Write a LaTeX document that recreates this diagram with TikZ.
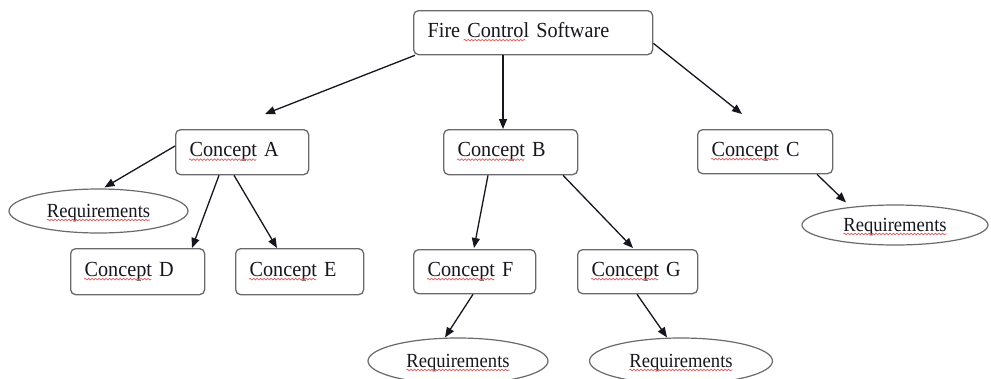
\documentclass[tikz,border=0pt]{standalone}
\usepackage{fontspec}
\setmainfont{Liberation Serif}
\newfontfamily\bxfamily[FakeStretch=0.94,WordSpace=0.8]{Liberation Serif}
\newfontfamily\ovfamily[FakeStretch=0.93]{Liberation Serif}
\usetikzlibrary{arrows.meta,shapes.geometric,calc,decorations.pathmorphing}
\definecolor{edgegray}{HTML}{6A6A6A}
\definecolor{inkcol}{HTML}{16161E}
\definecolor{spellred}{HTML}{E05A5A}
\newcommand\boxtext{\bxfamily\fontsize{21.5}{26}\selectfont}
\newcommand\ovaltext{\ovfamily\fontsize{20}{24}\selectfont}
\newlength\wcon
\newlength\wreq
\newlength\wfire
\newlength\wctl
\begin{document}
\settowidth{\wcon}{\boxtext Concept}%
\settowidth{\wreq}{\ovaltext Requirements}%
\settowidth{\wfire}{\boxtext Fire\ }%
\settowidth{\wctl}{\boxtext Control}%
\begin{tikzpicture}[x=1pt,y=-1pt,
  concept/.style={draw=edgegray, line width=1.3pt, rounded corners=5pt, fill=white,
    anchor=north west, inner xsep=14pt, inner ysep=0pt, align=left,
    text height=14pt, text depth=5pt, font=\boxtext, text=inkcol},
  req/.style={ellipse, draw=edgegray, line width=1.2pt, fill=white, inner sep=0pt,
    text height=13pt, text depth=1pt, font=\ovaltext, text=inkcol},
  arr/.style={-{Triangle[length=10pt,width=8pt]}, line width=1.3pt, draw=inkcol},
  squig/.style={draw=spellred, line width=0.7pt, decorate,
    decoration={snake, amplitude=0.8pt, segment length=3.5pt}}
]
\clip (0,0) rectangle (991,378);
\fill[white] (0,0) rectangle (991,378);

% concept boxes
\node[concept, text width=211pt, minimum height=44pt] (top) at (413,10) {Fire Control Software};
\node[concept, text width=105pt, minimum height=45pt] (A) at (175,129) {Concept A};
\node[concept, text width=106pt, minimum height=45pt] (B) at (443,129) {Concept B};
\node[concept, text width=107pt, minimum height=44pt] (C) at (697,129) {Concept C};
\node[concept, text width=106pt, minimum height=46pt] (D) at (70,248) {Concept D};
\node[concept, text width=100pt, minimum height=46pt] (E) at (235,248) {Concept E};
\node[concept, text width=94pt, minimum height=44pt] (F) at (413,249) {Concept F};
\node[concept, text width=92pt, minimum height=44pt] (G) at (577,249) {Concept G};

% requirement ovals
\node[req, minimum width=179pt, minimum height=44pt] (rL) at (98.5,211) {Requirements};
\node[req, minimum width=186pt, minimum height=40pt] (rC) at (895,225) {Requirements};
\node[req, minimum width=180pt, minimum height=46pt] (rF) at (458,361) {Requirements};
\node[req, minimum width=183pt, minimum height=46pt] (rG) at (681,361) {Requirements};

% connectors
\draw[arr] ($(top.south west)+(2,0)$) -- ($(A.north west)+(90,-15)$);
\draw[arr] ($(top.south west)+(90,0)$) -- ($(B.north west)+(60,0)$);
\draw[arr] ($(top.south east)+(0,-12)$) -- ($(C.north west)+(45,-15)$);
\draw[arr] ($(A.north west)+(0,17)$) -- ($(rL.north)+(6,-1)$);
\draw[arr] ($(A.south west)+(44,0)$) -- ($(D.north west)+(122,0)$);
\draw[arr] ($(A.south west)+(59,0)$) -- ($(E.north west)+(42,0)$);
\draw[arr] ($(B.south west)+(45,0)$) -- ($(F.north west)+(61,-1)$);
\draw[arr] ($(B.south west)+(120,0)$) -- ($(G.north west)+(56,-1)$);
\draw[arr] ($(C.south west)+(120,0)$) -- ($(rC.north)+(-49,-2)$);
\draw[arr] ($(F.south west)+(60,0)$) -- ($(rF.north)+(-13,0)$);
\draw[arr] ($(G.south west)+(60,0)$) -- ($(rG.north)+(-14,0)$);

% spell-check underlines
\draw[squig] ($(top.west)+(14,7.5)+(\wfire,0pt)$) -- ++(\wctl,0pt);
\foreach \n in {A,B,C,D,E,F,G}
  \draw[squig] ($(\n.west)+(14,7.5)$) -- ++(\wcon,0pt);
\foreach \n in {rL,rC,rF,rG}
  \draw[squig] ($(\n.center)+(0,9)+(-0.5*\wreq,0pt)$) -- ++(\wreq,0pt);
\end{tikzpicture}
\end{document}
